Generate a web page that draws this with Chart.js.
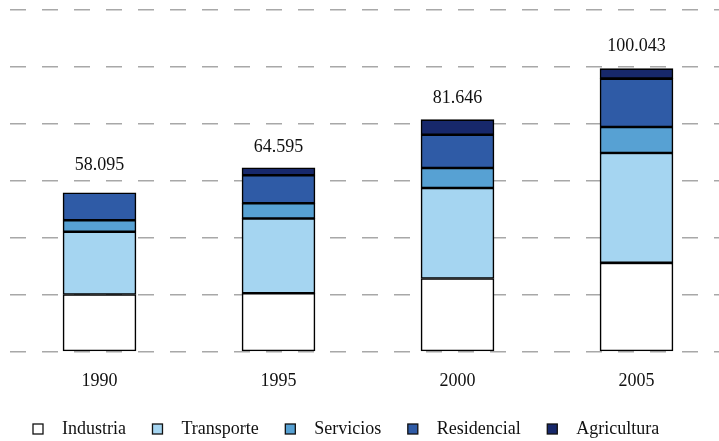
<!DOCTYPE html>
<html>
<head>
<meta charset="utf-8">
<script src="https://cdn.jsdelivr.net/npm/chart.js@4"></script>
<style>
  html, body { margin: 0; padding: 0; background: #fff; overflow: hidden; }
  #wrap { width: 719px; height: 441px; overflow: hidden; }
</style>
</head>
<body>
<div id="wrap"><canvas id="energyChart" width="726" height="441"></canvas></div>
<script>
// years and sector values
const years = ["1990", "1995", "2000", "2005"];
const totals = [58.095, 64.595, 81.646, 100.043];

const industria = [20.1, 20.5, 25.7, 31.2];
const transporte = [22.0, 26.3, 31.8, 38.6];
const servicios = [4.1, 5.3, 7.0, 9.1];
const residencial = [9.6, 9.9, 11.7, 17.0];
const agricultura = [0, 2.6, 5.3, 3.5];

const yTicksMax = 120;
const yTicksStep = 20;

const FONT = "Liberation Serif";

function barSet(label, data, color) {
  return {
    label: label,
    data: data,
    backgroundColor: color,
    borderColor: "#000",
    borderWidth: 1.6,
    borderSkipped: false,
    barThickness: 73,
  };
}

// totals written above each stack
const totalLabels = {
  id: "totalLabels",
  afterDatasetsDraw(chart) {
    const c = chart.ctx;
    const x = chart.scales.x;
    const y = chart.scales.y;
    c.save();
    c.font = "18px '" + FONT + "'";
    c.fillStyle = "#111";
    c.textAlign = "center";
    c.textBaseline = "alphabetic";
    totals.forEach(function (t, i) {
      c.fillText(t.toFixed(3), x.getPixelForValue(i), y.getPixelForValue(t) - 16);
    });
    c.restore();
  },
};

// legend row at the bottom
const bottomLegend = {
  id: "bottomLegend",
  afterDraw(chart) {
    const c = chart.ctx;
    c.save();
    c.font = "18px '" + FONT + "'";
    c.textBaseline = "middle";
    c.textAlign = "left";
    let x = 33;
    const yMid = 429;
    chart.data.datasets.forEach(function (ds) {
      c.fillStyle = ds.backgroundColor;
      c.fillRect(x, yMid - 5, 10, 10);
      c.strokeStyle = "#111";
      c.lineWidth = 1.3;
      c.strokeRect(x, yMid - 5, 10, 10);
      c.fillStyle = "#111";
      c.fillText(ds.label, x + 29, yMid);
      x += 29 + c.measureText(ds.label).width + 26.5;
    });
    c.restore();
  },
};

const ctx = document.getElementById("energyChart").getContext("2d");
const energyChart = new Chart(ctx, {
  type: "bar",
  data: {
    labels: years,
    datasets: [
      barSet("Industria", industria, "#ffffff"),
      barSet("Transporte", transporte, "#a5d5f1"),
      barSet("Servicios", servicios, "#57a1d3"),
      barSet("Residencial", residencial, "#2f5ba6"),
      barSet("Agricultura", agricultura, "#17286b"),
    ],
  },
  options: {
    responsive: false,
    animation: false,
    layout: {
      padding: { left: 10, right: 0, top: 10, bottom: 30.7 },
    },
    plugins: {
      legend: { display: false },
      tooltip: { enabled: false },
    },
    scales: {
      x: {
        stacked: true,
        grid: { display: false, drawTicks: false },
        border: { display: false },
        ticks: {
          padding: 18.5,
          color: "#111",
          font: { family: FONT, size: 18 },
        },
      },
      y: {
        stacked: true,
        min: 0,
        max: yTicksMax,
        grid: {
          color: "#a8a8a8",
          lineWidth: 1.5,
          drawTicks: false,
        },
        border: { display: false, dash: [16, 16] },
        ticks: { display: false, stepSize: yTicksStep },
      },
    },
  },
  plugins: [totalLabels, bottomLegend],
});
</script>
</body>
</html>
